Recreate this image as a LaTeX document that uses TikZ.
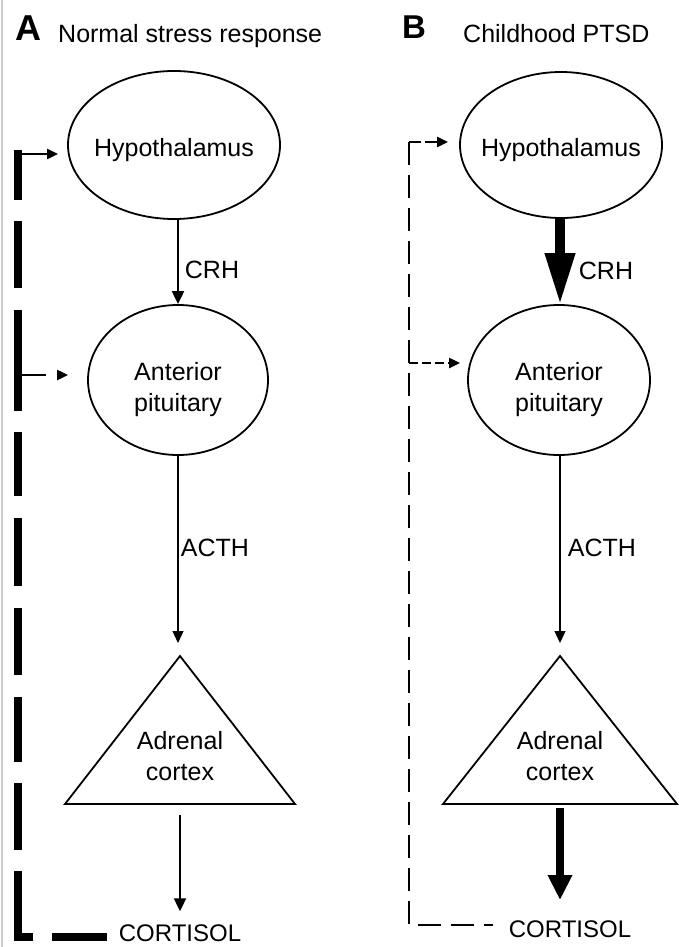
\documentclass[tikz,border=0pt]{standalone}
\usepackage{fontspec}
\setmainfont{Liberation Sans}
\usetikzlibrary{arrows.meta,shapes.geometric}
\tikzset{
  txt/.style={inner sep=0pt, font=\fontsize{25}{31}\selectfont, align=center},
  organ/.style={draw, line width=1.8pt, ellipse, inner sep=0pt},
  gland/.style={draw, line width=1.8pt, line join=miter},
  thinarr/.style={line width=1.2pt, -{Triangle[length=12pt,width=11pt]}},
  medarr/.style={line width=2pt, -{Triangle[length=13pt,width=12pt]}},
  fbthick/.style={line width=8pt, line join=miter},
  fbthin/.style={line width=2.4pt},
  fbarrow/.style={line width=2.4pt, -{Triangle[length=11pt,width=10pt]}},
}
\begin{document}
\begin{tikzpicture}[x=1pt,y=-1pt]
\useasboundingbox (0,0) rectangle (678,947);
\fill[white] (0,0) rectangle (678,947);
\draw[black!20, line width=2pt] (2,0) -- (2,947);

% ---------- Panel A ----------
\node[inner sep=0pt, font=\fontsize{36}{40}\selectfont\bfseries] (titA) at (28,28) {A};
\node[txt, anchor=base west] (subA) at (58,43) {Normal stress response};

\node[organ, minimum width=212pt, minimum height=148pt] (hypA) at (174,145) {};
\node[txt] (hypAt) at ([yshift=-5pt]hypA.center) {Hypothalamus};

\node[organ, minimum width=180pt, minimum height=150pt] (pitA) at (178,380) {};
\node[txt] (pitAt) at ([yshift=-10pt]pitA.center) {Anterior\\pituitary};

\coordinate (triAtop) at (180,656);
\coordinate (triAl) at (65,804);
\coordinate (triAr) at (295,804);
\draw[gland] (triAtop) -- (triAl) -- (triAr) -- cycle;
\node[txt] (triAt) at (180,756) {Adrenal\\cortex};

\node[txt, font=\fontsize{24}{28}\selectfont] (cortA) at (180,933) {CORTISOL};

\draw[medarr] (pitA.north |- hypA.south) -- (pitA.north);
\node[txt] (crhA) at (212,270) {CRH};
\draw[thinarr, shorten >=13pt] (pitA.south) -- (pitA.south |- triAtop);
\node[txt] (acthA) at (215,548) {ACTH};
\draw[medarr, shorten <=11pt, shorten >=13pt] (triAtop |- triAl) -- (triAtop |- cortA.north);

% feedback A
\coordinate (fbAtop) at (18,150);
\coordinate (fbAcorner) at (18,937);
\path (cortA.west) ++(-12,0) coordinate (fbAend);
\draw[fbthick, dash pattern=on 50pt off 21pt on 67pt off 22pt on 101pt off 21pt on 64pt off 22pt on 68pt off 22pt on 67pt off 22pt on 65pt off 21pt on 67pt off 21pt on 81pt off 19pt on 56pt off 10pt]
  (fbAtop) -- (fbAcorner) -- (fbAcorner -| fbAend);
\coordinate (fbAh) at (18,154);
\coordinate (hypAin) at (58,154);
\draw[fbarrow] (fbAh) -- (hypAin);
\coordinate (fbAm) at (18,375);
\coordinate (pitAin) at (68,375);
\draw[fbarrow, dash pattern=on 28pt off 20pt] (fbAm) -- (pitAin);

% ---------- Panel B ----------
\node[inner sep=0pt, font=\fontsize{33}{38}\selectfont\bfseries] (titB) at (414,27) {B};
\node[txt, anchor=base west] (subB) at (463,43) {Childhood PTSD};

\node[organ, minimum width=202pt, minimum height=146pt] (hypB) at (561,145) {};
\node[txt] (hypBt) at ([yshift=-5pt]hypB.center) {Hypothalamus};

\node[organ, minimum width=182pt, minimum height=150pt] (pitB) at (559,380) {};
\node[txt] (pitBt) at ([yshift=-10pt]pitB.center) {Anterior\\pituitary};

\coordinate (triBtop) at (560,656);
\coordinate (triBl) at (443,804);
\coordinate (triBr) at (677,804);
\draw[gland] (triBtop) -- (triBl) -- (triBr) -- cycle;
\node[txt] (triBt) at (560,756) {Adrenal\\cortex};

\node[txt, font=\fontsize{24}{28}\selectfont] (cortB) at (570,929) {CORTISOL};

\draw[line width=10pt, -{Triangle[length=52pt,width=28pt]}] (560,218) -- (560,305);
\node[txt] (crhB) at (606,271) {CRH};
\draw[thinarr, shorten >=13pt] (triBtop |- pitB.south) -- (triBtop);
\node[txt] (acthB) at (602,548) {ACTH};
\draw[line width=8pt, -{Triangle[length=25pt,width=23pt]}] (triBtop |- triBl) ++(0,4) -- (560,900);

% feedback B
\coordinate (fbBtop) at (409,142);
\coordinate (fbBcorner) at (409,925);
\path (cortB.west) ++(-16,0) coordinate (fbBend);
\draw[fbthin, dash pattern=on 23pt off 10pt] (fbBtop) -- (fbBcorner) -- (fbBcorner -| fbBend);
\coordinate (hypBin) at (448,142);
\draw[fbarrow, dash pattern=on 12pt off 4pt] (fbBtop) -- (hypBin);
\coordinate (fbBm) at (409,363);
\coordinate (pitBin) at (460,363);
\draw[fbarrow, dash pattern=on 9pt off 4pt] (fbBm) -- (pitBin);
\end{tikzpicture}
\end{document}
